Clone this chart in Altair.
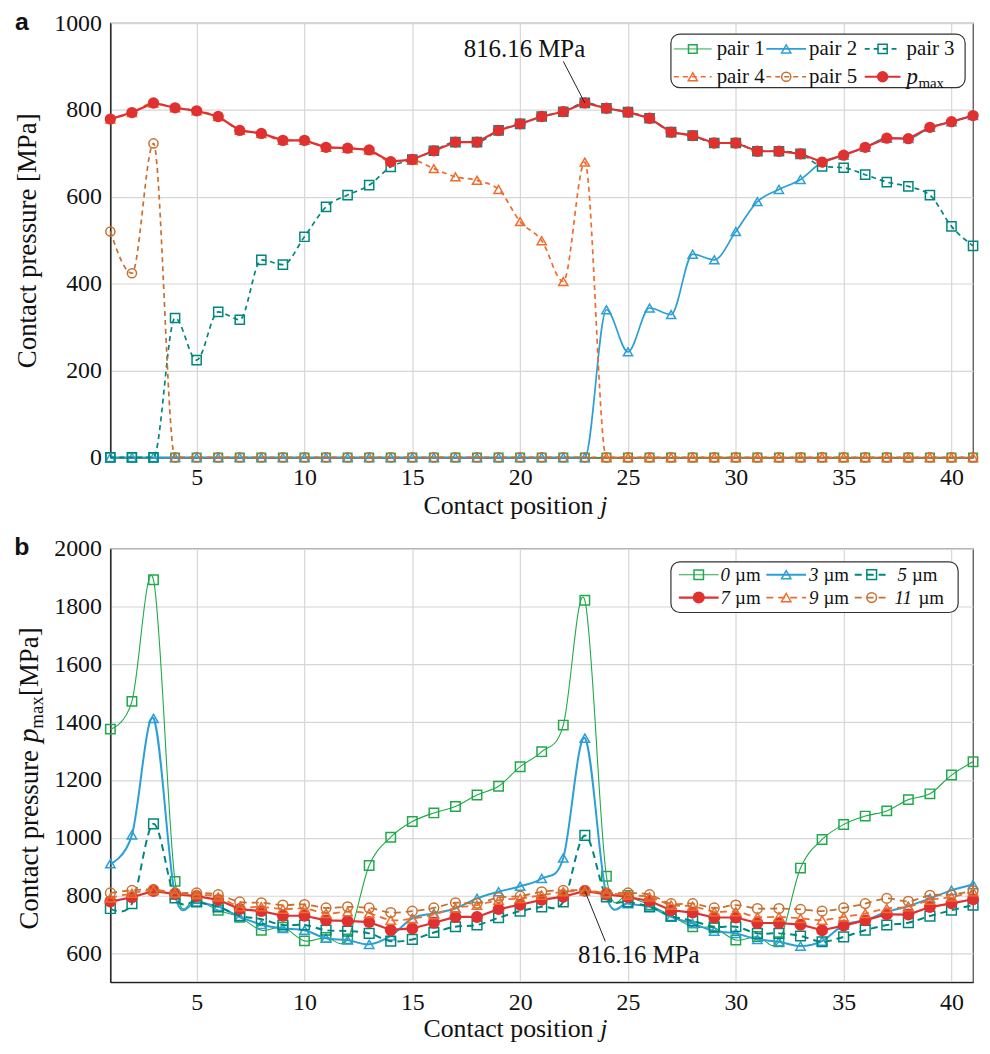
import altair as alt
import pandas as pd

# ---------------- data ----------------
J = list(range(1, 42))
X_TICKS = [5, 10, 15, 20, 25, 30, 35, 40]
A_Y_TICKS = [0, 200, 400, 600, 800, 1000]
B_Y_TICKS = [600, 800, 1000, 1200, 1400, 1600, 1800, 2000]

PMAX = [779, 794, 816, 805, 798, 785, 753, 746, 730, 730, 714, 712, 708, 681,
        686, 706, 726, 726, 753, 768, 785, 796, 816.16, 804, 795, 781, 749, 741,
        724, 724, 705, 705, 699, 680, 696, 714, 735, 734, 760, 773, 787]
PAIR1 = [0, 0, 0, 0, 0, 0, 0, 0, 0, 0, 0, 0, 0, 0, 0, 0, 0, 0, 0, 0, 0,
         0, 0, 0, 0, 0, 0, 0, 0, 0, 0, 0, 0, 0, 0, 0, 0, 0, 0, 0, 0]
PAIR2 = [0, 0, 0, 0, 0, 0, 0, 0, 0, 0, 0, 0, 0, 0, 0, 0, 0, 0, 0, 0, 0, 0, 0,
         340, 243, 344, 329, 468, 455, 520, 589, 617, 640, 680, 696, 714, 735,
         734, 760, 773, 787]
PAIR3 = [0, 0, 0, 321, 224, 335, 317, 455, 444, 508, 577, 604, 627, 669,
         686, 706, 726, 726, 753, 768, 785, 796, 816.16, 804, 795, 781, 749, 741,
         724, 724, 705, 705, 699, 670, 667, 651, 634, 624, 604, 532, 487]
PAIR4 = [779, 794, 816, 805, 798, 785, 753, 746, 730, 730, 714, 712, 708, 681,
         684, 665, 646, 638, 617, 543, 499, 405, 680, 0, 0, 0, 0, 0, 0, 0, 0,
         0, 0, 0, 0, 0, 0, 0, 0, 0, 0]
PAIR5 = [520, 424, 723, 0, 0, 0, 0, 0, 0, 0, 0, 0, 0, 0, 0, 0, 0, 0, 0, 0, 0,
         0, 0, 0, 0, 0, 0, 0, 0, 0, 0, 0, 0, 0, 0, 0, 0, 0, 0, 0, 0]

UM0 = [1376, 1472, 1893, 849, 790, 749, 725, 680, 690, 643, 655, 650, 904,
       1002, 1056, 1086, 1108, 1148, 1178, 1246, 1298, 1390, 1822, 867, 800,
       768, 730, 692, 688, 646, 658, 640, 895, 994, 1046, 1075, 1093, 1132,
       1152, 1217, 1263]
UM3 = [910, 1010, 1413, 801, 778, 762, 726, 700, 686, 680, 652, 646, 631, 660,
       721, 738, 755, 790, 813, 832, 859, 930, 1345, 800, 772, 761, 726, 703,
       677, 669, 648, 640, 625, 642, 698, 715, 743, 763, 790, 818, 838]
UM5 = [755, 772, 1048, 792, 778, 761, 730, 718, 698, 698, 680, 677, 669, 642,
       648, 672, 692, 698, 723, 746, 761, 778, 1008, 795, 778, 761, 729, 712,
       692, 692, 669, 669, 660, 640, 657, 680, 698, 706, 729, 749, 767]
UM7 = PMAX
UM9 = [792, 808, 818, 808, 803, 795, 761, 761, 753, 755, 738, 744, 738, 715,
       720, 734, 757, 767, 784, 790, 801, 813, 816, 809, 801, 795, 767, 763,
       744, 744, 726, 726, 721, 715, 726, 738, 755, 761, 784, 795, 813]
UM11 = [809, 818, 821, 809, 809, 803, 778, 775, 767, 769, 757, 761, 757, 741,
        746, 757, 775, 773, 793, 798, 813, 818, 818, 809, 809, 803, 772, 772,
        757, 767, 755, 755, 752, 746, 757, 772, 790, 780, 801, 803, 816]

A_NAMES = ["pair 1", "pair 2", "pair 3", "pair 4", "pair 5", "p"]
B_NAMES = ["0", "3", "5", "7", "9", "11"]

# ---------------- styles ----------------
SERIF = "Liberation Serif"
W, H_A, H_B = 868, 437, 436
GREEN, BLUE, TEAL = "#1faa4a", "#2b9fd6", "#00877d"
ORANGE, BROWN, RED = "#ef6c2c", "#c8702f", "#e03131"
ONE = pd.DataFrame({"k": [0]})


def style(color, dash, shape, filled, lw, size):
    return dict(color=color, dash=dash, shape=shape, filled=filled, lw=lw, size=size)


A_STYLES = [
    style(GREEN, None, "square", False, 1.0, 75),
    style(BLUE, None, "triangle-up", False, 1.7, 85),
    style(TEAL, [5, 4], "square", False, 1.7, 85),
    style(ORANGE, [5, 4], "triangle-up", False, 1.7, 85),
    style(BROWN, [5, 4], "circle", False, 1.7, 85),
    style(RED, None, "circle", True, 2.2, 130),
]
B_STYLES = [
    style(GREEN, None, "square", False, 1.1, 90),
    style(BLUE, None, "triangle-up", False, 2.0, 90),
    style(TEAL, [7, 5], "square", False, 2.0, 95),
    style(RED, None, "circle", True, 2.2, 145),
    style(ORANGE, [7, 5], "triangle-up", False, 1.8, 90),
    style(BROWN, [7, 5], "circle", False, 1.8, 95),
]

AXIS_STYLE = dict(labelFont=SERIF, labelFontSize=24, labelColor="#111",
                  gridColor="#d6d6d6", gridWidth=1.2, domainColor="#222",
                  domainWidth=1.3, ticks=False, format="d", title=None, grid=True)


def xenc():
    return alt.X("j:Q", scale=alt.Scale(domain=[1, 41], nice=False, zero=False),
                 axis=alt.Axis(values=X_TICKS, labelPadding=8, labelFlush=False,
                               **AXIS_STYLE))


def yenc(dom, ticks):
    return alt.Y("v:Q", scale=alt.Scale(domain=dom, nice=False, zero=False),
                 axis=alt.Axis(values=ticks, labelPadding=9, labelFlush=False,
                               **AXIS_STYLE))


def series_layers(values, st, interp, dom, ticks):
    df = pd.DataFrame({"j": J, "v": values})
    lkw = dict(color=st["color"], strokeWidth=st["lw"], interpolate=interp)
    if st["dash"]:
        lkw["strokeDash"] = st["dash"]
    line = alt.Chart(df).mark_line(**lkw).encode(x=xenc(), y=yenc(dom, ticks))
    pts = alt.Chart(df).mark_point(shape=st["shape"], filled=st["filled"], color=st["color"],
                                   size=st["size"], strokeWidth=1.5, opacity=1).encode(
        x=xenc(), y=yenc(dom, ticks))
    return [line, pts]


def txt(s, x, y, size, **kw):
    p = dict(text=s, font=SERIF, fontSize=size, color="#111", align="left", baseline="middle")
    p.update(kw)
    return alt.Chart(ONE).mark_text(**p).encode(x=alt.value(x), y=alt.value(y))


def legend_layers(ox, oy, box, rows, lines, marks, texts, styles, names, fsize, kind):
    lay = [alt.Chart(ONE).mark_rect(fill="white", stroke="#333", strokeWidth=1.2,
                                    cornerRadius=9).encode(
        x=alt.value(box[0] - ox), x2=alt.value(box[2] - ox),
        y=alt.value(box[1] - oy), y2=alt.value(box[3] - oy))]
    for i, (st, nm) in enumerate(zip(styles, names)):
        r, c = divmod(i, 3)
        y = rows[r] - oy
        rkw = dict(color=st["color"], strokeWidth=st["lw"])
        if st["dash"]:
            rkw["strokeDash"] = st["dash"]
        lay.append(alt.Chart(ONE).mark_rule(**rkw).encode(
            x=alt.value(lines[c][0] - ox), x2=alt.value(lines[c][1] - ox), y=alt.value(y)))
        lay.append(alt.Chart(ONE).mark_point(shape=st["shape"], filled=st["filled"],
                                             color=st["color"], size=st["size"],
                                             strokeWidth=1.5, opacity=1).encode(
            x=alt.value(marks[c] - ox), y=alt.value(y)))
        tx = texts[c] - ox
        if kind == "a":
            if nm == "p":
                lay.append(txt("p", tx, y, fsize + 2, fontStyle="italic"))
                lay.append(txt("max", tx + 12, y + 6, fsize - 6))
            else:
                lay.append(txt(nm, tx, y, fsize))
        else:
            if r == 1 and c == 2:
                tx -= 3
            lay.append(txt(nm, tx, y, fsize, fontStyle="italic"))
            lay.append(txt("\u00b5m", tx + len(nm) * 9.5 + 5, y, fsize))
    return lay


def annot(tx, ty, lx, ly, px, py):
    t = alt.Chart(ONE).mark_text(text="816.16 MPa", font=SERIF, fontSize=25, color="#111",
                                 align="center", baseline="middle").encode(
        x=alt.datum(tx), y=alt.datum(ty))
    r = alt.Chart(ONE).mark_rule(color="#222", strokeWidth=1).encode(
        x=alt.datum(lx), y=alt.datum(ly), x2=alt.datum(px), y2=alt.datum(py))
    return [t, r]


def xtitle(ypos):
    return [txt("Contact position ", 315, ypos, 26),
            txt("j", 493, ypos, 26, fontStyle="italic")]


def panel_label(s, x, y):
    return alt.Chart(ONE).mark_text(text=s, font="Liberation Sans", fontWeight="bold",
                                    fontSize=25, color="#111", align="center",
                                    baseline="middle").encode(x=alt.value(x), y=alt.value(y))


# ---------------- panel a ----------------
OA = (110, 21)
a_layers = []
for vals, st in zip([PAIR1, PAIR2, PAIR3, PAIR4, PAIR5, PMAX], A_STYLES):
    a_layers += series_layers(vals, st, "linear" if st["filled"] else "monotone",
                              [0, 1000], A_Y_TICKS)
a_layers += annot(20.2, 940, 22.0, 912, 23, 816.16)
a_layers += legend_layers(OA[0], OA[1], (674, 32, 970, 86), [47, 75],
                          [(677, 715), (770, 810), (869, 905)], [696, 790, 887],
                          [720, 813, 911], A_STYLES, A_NAMES, 21, "a")
a_layers += xtitle(486)
a_layers.append(txt("Contact pressure [MPa]", 27 - OA[0], 240 - OA[1], 27,
                    angle=270, align="center"))
a_layers.append(panel_label("a", 21 - OA[0], 20 - OA[1]))
chart_a = alt.layer(*a_layers).properties(width=W, height=H_A)

# ---------------- panel b ----------------
OB = (110, 549)
b_layers = []
for vals, st in zip([UM0, UM3, UM5, UM7, UM9, UM11], B_STYLES):
    b_layers += series_layers(vals, st, "linear" if st["filled"] else "cardinal",
                              [500, 2000], B_Y_TICKS)
b_layers += annot(25.5, 593, 23.95, 641, 23, 816.16)
b_layers += legend_layers(OB[0], OB[1], (674, 562, 963, 613), [575, 598],
                          [(682, 722), (770, 810), (859, 893)], [702, 790, 876],
                          [724, 813, 902], B_STYLES, B_NAMES, 19, "b")
b_layers += xtitle(483)
yb = 932 - OB[1]
xb = 37 - OB[0]
b_layers.append(txt("Contact pressure ", xb, yb, 27, angle=270, baseline="alphabetic"))
b_layers.append(txt("p", xb, yb - 188, 29, angle=270, baseline="alphabetic",
                    fontStyle="italic"))
b_layers.append(txt("max", xb + 5, yb - 202, 19, angle=270, baseline="alphabetic"))
b_layers.append(txt(" [MPa]", xb, yb - 235, 27, angle=270, baseline="alphabetic"))
b_layers.append(panel_label("b", 21 - OB[0], 547 - OB[1]))
chart_b = alt.layer(*b_layers).properties(width=W, height=H_B)

chart = alt.vconcat(chart_a, chart_b, spacing=14).configure_view(
    stroke="#555", strokeWidth=1.3
).properties(
    padding={"left": 5, "top": -2, "right": 0, "bottom": 0}
)

chart.save("out.html", embed_options={"renderer": "svg", "actions": False})
